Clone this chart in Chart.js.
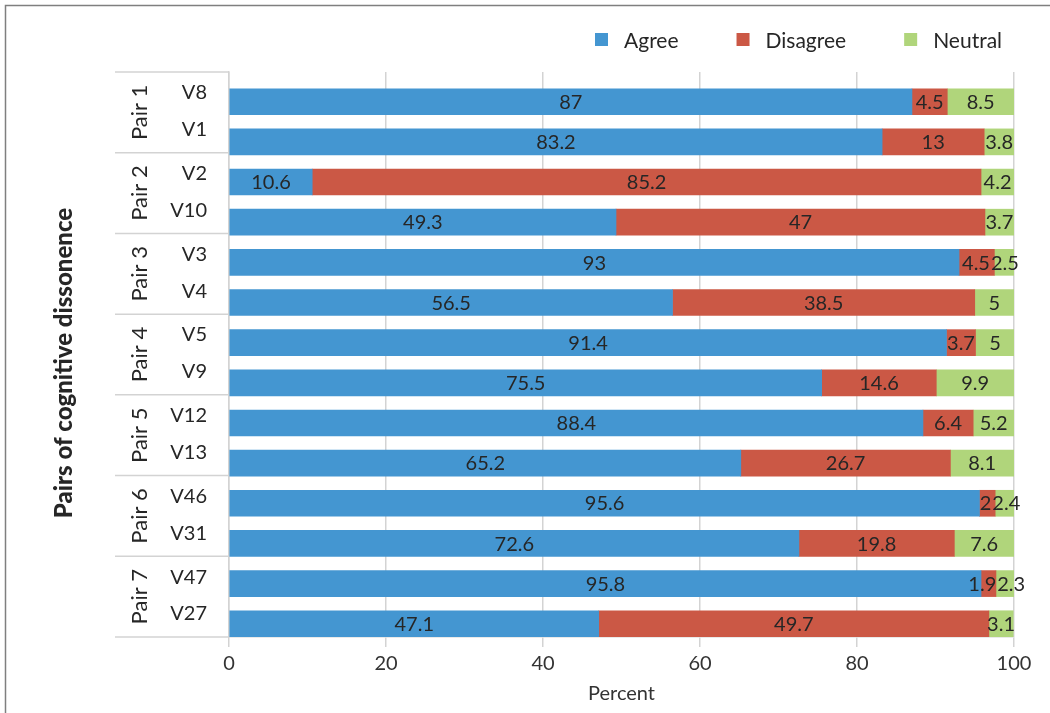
<!DOCTYPE html>
<html>
<head>
<meta charset="utf-8">
<script src="https://cdn.jsdelivr.net/npm/chart.js@4.4.1/dist/chart.umd.min.js"></script>
<style>
  html, body { margin: 0; padding: 0; background: #ffffff; }
  canvas { display: block; }
</style>
</head>
<body>
<canvas id="chart" width="1050" height="713"></canvas>
<script>
// Item pairs and the items in each pair (two rows per pair, top to bottom)
const pairLabels = ['Pair 1', 'Pair 2', 'Pair 3', 'Pair 4', 'Pair 5', 'Pair 6', 'Pair 7'];
const rowLabels = ['V8', 'V1', 'V2', 'V10', 'V3', 'V4', 'V5', 'V9', 'V12', 'V13', 'V46', 'V31', 'V47', 'V27'];

// Response shares in percent
const agree    = [87, 83.2, 10.6, 49.3, 93, 56.5, 91.4, 75.5, 88.4, 65.2, 95.6, 72.6, 95.8, 47.1];
const disagree = [4.5, 13, 85.2, 47, 4.5, 38.5, 3.7, 14.6, 6.4, 26.7, 2, 19.8, 1.9, 49.7];
const neutral  = [8.5, 3.8, 4.2, 3.7, 2.5, 5, 5, 9.9, 5.2, 8.1, 2.4, 7.6, 2.3, 3.1];

const seriesNames = ['Agree', 'Disagree', 'Neutral'];
const percentTicks = [0, 20, 40, 60, 80, 100];

const FONT = 'Lato, "Open Sans", "DejaVu Sans", sans-serif';
const COLORS = ['#4496D1', '#CB5845', '#B0D57B'];
const GRID = '#D3D3D3';
const TEXT = '#262626';
const TICK = '#333333';

Chart.defaults.font.family = FONT;

const series = [agree, disagree, neutral];
const datasets = series.map((values, s) => ({
  label: seriesNames[s],
  data: values.map((v, i) => ({ x: v, y: i })),
  backgroundColor: COLORS[s],
  borderWidth: 0,
  barThickness: 26
}));

// Value written in the middle of every bar segment; neighbouring labels
// that would collide are pushed apart evenly
const valueLabels = {
  id: 'valueLabels',
  afterDatasetsDraw(chart) {
    const { ctx } = chart;
    const size = 20;
    ctx.save();
    ctx.font = `${size}px ${FONT}`;
    ctx.fillStyle = TEXT;
    ctx.textAlign = 'center';
    ctx.textBaseline = 'alphabetic';
    const metas = chart.data.datasets.map((ds, di) => chart.getDatasetMeta(di));
    rowLabels.forEach((_, i) => {
      const items = chart.data.datasets.map((ds, di) => {
        const bar = metas[di].data[i];
        const text = String(ds.data[i].x);
        return { text, cx: (bar.x + bar.base) / 2, y: bar.y, w: ctx.measureText(text).width };
      });
      for (let j = 1; j < items.length; j++) {
        const prev = items[j - 1], cur = items[j];
        const overlap = (prev.cx + prev.w / 2 + 1) - (cur.cx - cur.w / 2);
        if (overlap > 0) {
          prev.cx -= overlap / 2;
          cur.cx += overlap / 2;
        }
      }
      items.forEach(it => ctx.fillText(it.text, it.cx, it.y + 0.36 * size));
    });
    ctx.restore();
  }
};

// Frame, grouped category column, axis title and legend
const decorations = {
  id: 'decorations',
  beforeDraw(chart) {
    const { ctx, width, height } = chart;
    ctx.save();
    ctx.fillStyle = '#ffffff';
    ctx.fillRect(0, 0, width, height);
    ctx.strokeStyle = '#7F7F7F';
    ctx.lineWidth = 1.5;
    ctx.beginPath();
    ctx.moveTo(5.5, height);
    ctx.lineTo(5.5, 5.5);
    ctx.lineTo(width, 5.5);
    ctx.stroke();
    ctx.restore();
  },
  afterDraw(chart) {
    const { ctx, chartArea: a } = chart;
    const nPairs = pairLabels.length;
    const rowsPerPair = rowLabels.length / nPairs;
    const pairH = (a.bottom - a.top) / nPairs;
    const colLeft = 115;

    ctx.save();
    // pair separators
    ctx.strokeStyle = GRID;
    ctx.lineWidth = 1.5;
    ctx.beginPath();
    for (let k = 0; k <= nPairs; k++) {
      const y = a.top + k * pairH;
      ctx.moveTo(colLeft, y);
      ctx.lineTo(a.left, y);
    }
    ctx.stroke();

    // pair names, rotated
    ctx.fillStyle = TEXT;
    ctx.font = `22px ${FONT}`;
    ctx.textAlign = 'center';
    ctx.textBaseline = 'alphabetic';
    pairLabels.forEach((name, k) => {
      ctx.save();
      ctx.translate(147, a.top + (k + 0.5) * pairH);
      ctx.rotate(-Math.PI / 2);
      ctx.fillText(name, 0, 0);
      ctx.restore();
    });

    // item names
    const itemSize = 20;
    ctx.font = `${itemSize}px ${FONT}`;
    ctx.textAlign = 'right';
    const slots = [0.248, 0.706];
    rowLabels.forEach((name, i) => {
      const k = Math.floor(i / rowsPerPair);
      const yc = a.top + k * pairH + slots[i % rowsPerPair] * pairH;
      ctx.fillText(name, 207, yc + 0.36 * itemSize);
    });

    // vertical axis title
    ctx.font = `900 24px ${FONT}`;
    ctx.textAlign = 'center';
    ctx.save();
    ctx.translate(72, 363);
    ctx.rotate(-Math.PI / 2);
    ctx.fillText('Pairs of cognitive dissonence', 0, 0);
    ctx.restore();

    // legend
    const legSize = 21;
    ctx.font = `${legSize}px ${FONT}`;
    ctx.textAlign = 'left';
    let x = 595;
    const yc = 40;
    chart.data.datasets.forEach((ds) => {
      ctx.fillStyle = ds.backgroundColor;
      ctx.fillRect(x, yc - 7, 13, 13);
      x += 13 + 16;
      ctx.fillStyle = TEXT;
      ctx.fillText(ds.label, x, yc + 0.36 * legSize);
      x += ctx.measureText(ds.label).width + 58;
    });
    ctx.restore();
  }
};

new Chart(document.getElementById('chart'), {
  type: 'bar',
  data: { datasets },
  options: {
    indexAxis: 'y',
    responsive: false,
    maintainAspectRatio: false,
    animation: false,
    devicePixelRatio: 1,
    layout: { padding: { top: 72, right: 36, bottom: 0, left: 0 } },
    plugins: {
      legend: { display: false },
      tooltip: { enabled: false },
      title: { display: false }
    },
    scales: {
      x: {
        type: 'linear',
        position: 'bottom',
        stacked: true,
        min: 0,
        max: 100,
        afterBuildTicks(scale) {
          scale.ticks = percentTicks.map(v => ({ value: v }));
        },
        afterFit(scale) { scale.height = 76; },
        ticks: {
          font: { size: 20 },
          color: TICK,
          padding: 5,
          autoSkip: false,
          maxRotation: 0
        },
        grid: {
          color: GRID,
          lineWidth: 1.5,
          tickLength: 10,
          drawTicks: true
        },
        border: { display: true, color: GRID, width: 1.5 },
        title: {
          display: true,
          text: 'Percent',
          font: { size: 20 },
          color: TICK,
          padding: { top: 0, bottom: 7 }
        }
      },
      y: {
        type: 'linear',
        position: 'left',
        reverse: true,
        stacked: true,
        offset: false,
        bounds: 'data',
        grace: 0,
        min: -0.74,
        max: 13.33,
        afterFit(scale) { scale.width = 229; },
        ticks: { display: false },
        grid: { display: false, offset: false },
        border: { display: true, color: GRID, width: 1.5 }
      }
    }
  },
  plugins: [valueLabels, decorations]
});
</script>
</body>
</html>
